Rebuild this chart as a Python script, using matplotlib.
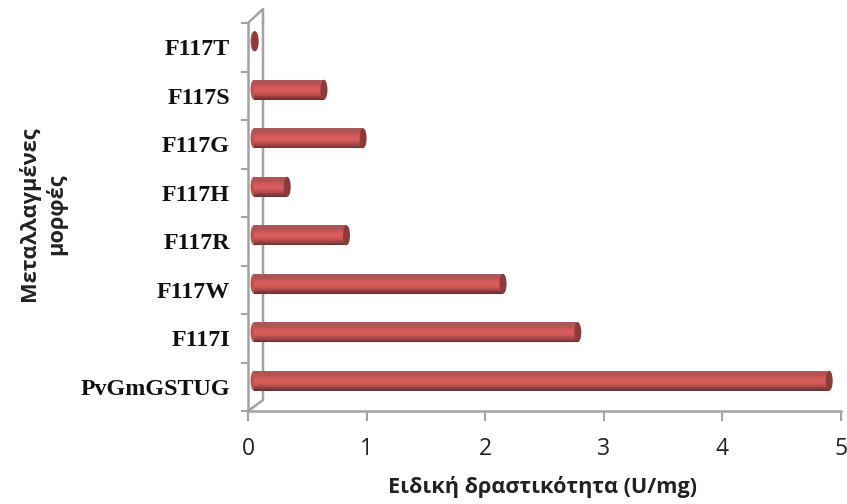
#!/usr/bin/env python
import numpy as np
import matplotlib
matplotlib.use('Agg')
import matplotlib.pyplot as plt
from matplotlib.patches import Ellipse
from matplotlib.colors import LinearSegmentedColormap

categories = ['PvGmGSTUG', 'F117I', 'F117W', 'F117R', 'F117H', 'F117G', 'F117S', 'F117T']
values = [4.85, 2.73, 2.10, 0.78, 0.28, 0.92, 0.59, 0.01]
xticks = [0, 1, 2, 3, 4, 5]
xlabel = 'Ειδική δραστικότητα (U/mg)'
ylabel = 'Μεταλλαγμένες\nμορφές'

W, H = 847, 504
grey = '#a3a3a3'
# bottom to top of the cylinder
shade = LinearSegmentedColormap.from_list('cyl', ['#6f3030', '#a04646', '#d05656', '#db5e5e', '#cf5858', '#b55050', '#a65a5a'])

fig = plt.figure(figsize=(W / 100, H / 100), dpi=100)
ax = fig.add_axes([248 / W, 1 - 411 / H, (841 - 248) / W, (411 - 23) / H])
ax.set_xlim(0, 5)
ax.set_ylim(-0.5, 7.5)

px_x = 5 / (841 - 248)
px_y = 8 / (411 - 23)
# the 3d look: bars sit a bit up and right of the category
off_x = 6 * px_x
off_y = 6 * px_y
bar_h = 20 * px_y
cap_w = 7 * px_x
y = np.arange(len(categories))

for yi, v in zip(y, values):
    ax.add_patch(Ellipse((off_x, yi + off_y), cap_w, bar_h, fc='#c25252', ec='none', zorder=3))
    strips = 24
    for k in range(strips):
        h = bar_h / strips
        ax.barh(yi + off_y - bar_h / 2 + (k + 0.5) * h, v, left=off_x, height=h * 1.1,
                color=shade(k / (strips - 1)), lw=0, zorder=3)
    ax.add_patch(Ellipse((off_x + v, yi + off_y), cap_w, bar_h, fc='#8a3c3c', ec='none', zorder=4))

# side wall of the 3d box
back = 15 / (841 - 248)
ax.plot([back, back, 0], [1.0, 11 / (411 - 23), 0], transform=ax.transAxes, color=grey, lw=1.8, clip_on=False, zorder=2)
ax.plot([0, back, back], [1.0, 1 + 14 / (411 - 23), 1.0], transform=ax.transAxes, color=grey, lw=1.8, clip_on=False, zorder=2)

for s in ['top', 'right']:
    ax.spines[s].set_visible(False)
for s in ['left', 'bottom']:
    ax.spines[s].set_color(grey)
    ax.spines[s].set_linewidth(1.8)

ax.set_xticks(xticks)
ax.tick_params(axis='x', length=7, width=1.5, color=grey, pad=12, labelsize=16.5, labelcolor='#222222')
ax.set_xticklabels([str(t) for t in xticks], family='Open Sans')
ax.set_yticks(np.arange(-0.5, 8, 1))
ax.set_yticklabels([])
ax.set_yticks(y, minor=True)
ax.set_yticklabels(categories, minor=True, family='Liberation Serif', fontweight='bold', fontsize=17.3, color='#111111')
ax.tick_params(axis='y', which='major', length=5, width=1.5, color=grey)
ax.tick_params(axis='y', which='minor', length=0, pad=13)

ax.set_xlabel(xlabel, family='Open Sans', fontweight='bold', fontsize=15.6, color='#222222')
ax.xaxis.set_label_coords((542 - 248) / (841 - 248), -(487 - 411) / (411 - 23), transform=ax.transAxes)
ax.xaxis.label.set_va('center')
ax.set_ylabel(ylabel, family='Open Sans', fontweight='bold', fontsize=15.7, color='#222222', linespacing=1.3)
ax.yaxis.set_label_coords(-(248 - 43) / (841 - 248), (411 - 214) / (411 - 23), transform=ax.transAxes)
ax.yaxis.label.set_va('center')

fig.savefig('out.png', dpi=100)
